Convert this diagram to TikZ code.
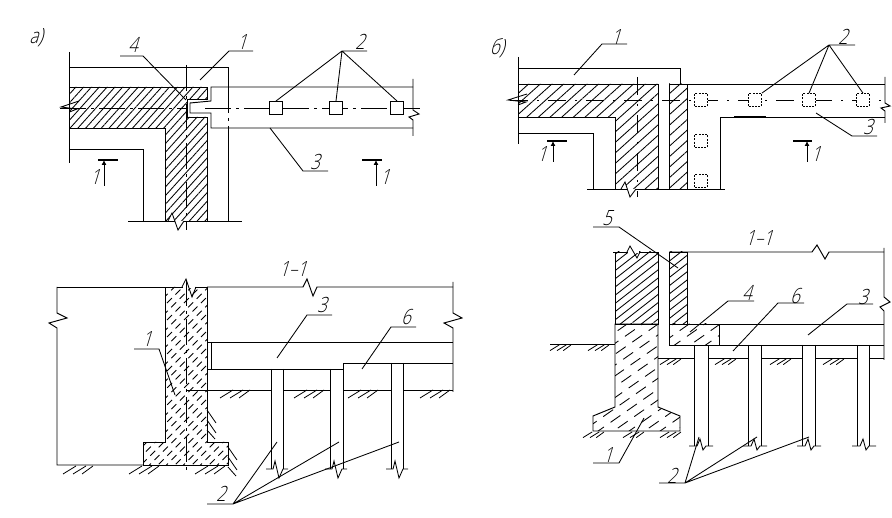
\documentclass[tikz,border=0pt]{standalone}
\usepackage{fontspec}
\usetikzlibrary{arrows.meta, patterns.meta}
\newfontfamily\gost[FakeSlant=.3,FakeStretch=.8]{Open Sans Light}
\newcommand{\wethatch}[5]{\begin{scope}
    \clip #1;
    \foreach \n in {1,...,130} {
      \pgfmathsetmacro\c{300+\n*#2}
      \pgfmathsetmacro\ph{mod(\n,2)*(#4+#5)/2}
      \draw[wet, dash pattern=on #4pt off #5pt, dash phase=\ph pt] (\c-600*#3,600) -- (\c,0);
    }
  \end{scope}
  \draw[outl] #1;}
\tikzset{
  earthmark/.pic={\draw[tick] (0,8) -- (13,0) (10,8) -- (23,0) (19,8) -- (30,0);},
  earthside/.pic={\draw[tick] (0,0) -- (9,13) (0,10) -- (9,23) (0,20) -- (8,29);}
}
\begin{document}
\begin{tikzpicture}[
    x=1pt, y=-1pt,
    outl/.style={line width=.95pt},
    tick/.style={line width=.8pt},
    lead/.style={line width=.85pt},
    wet/.style={line width=.85pt},
    centre/.style={line width=.9pt, dash pattern=on 26pt off 5pt on 3pt off 5pt},
    centreb/.style={line width=.9pt, dash pattern=on 18pt off 9pt on 2pt off 9pt},
    brk/.style={line width=.85pt},
    bar/.style={line width=2.2pt},
    sec/.style={line width=.9pt, -{Latex[length=5pt,width=5pt]}},
    pile/.style={draw, line width=1pt, fill=white, minimum size=13pt, inner sep=0pt},
    pilehid/.style={pile, line width=.7pt, dash pattern=on 2pt off 1.3pt},
    lbl/.style={font=\gost\fontsize{21}{21}\selectfont, inner sep=0pt}
  ]
  \useasboundingbox (0,0) rectangle (892,518);
  \fill[white] (0,0) rectangle (892,518);
  % plan a
  \draw[outl, pattern={Lines[angle=48,distance=5.8pt,line width=.85pt]}] (69.5,87) -- (207,87) -- (207,99) -- (187,99) -- (187,117) -- (207,117) -- (207,221) -- (165,221) -- (165,128) -- (69.5,128) -- cycle;
  \draw[outl] (69.5,52) -- (69.5,163);
  \draw[outl] (69.5,67) -- (228,67) -- (228,87);
  \draw[outl] (228,128) -- (228,221);
  \draw[outl] (69.5,149) -- (143,149) -- (143,221);
  \draw[outl] (128,221) -- (242,221);
  \draw[outl] (413,87) -- (211,87) -- (211,101) -- (190,103) -- (190,113) -- (211,113) -- (211,128) -- (413,128);
  \draw[outl] (413,79) -- (413,110) -- (419,114) -- (409,117) -- (413,120) -- (413,136);
  \draw[brk] (79,101) -- (61,107) -- (77,109) -- (69.5,112);
  \draw[brk, fill=white] (168,221) -- (172,213) -- (178,230) -- (184,221);
  \draw[centre] (60,108) -- (187,108) (205,108) -- (420,108);
  \draw[centre] (186,65) -- (186,230);
  \draw[centre] (228,87) -- (228,128);
  \node[pile] (pa1) at (276,108) {};
  \node[pile] (pa2) at (336,108) {};
  \node[pile] (pa3) at (397,108) {};
  \draw[lead] (367,51) -- (342,51) -- (pa1.north) (342,51) -- (pa2.north) (342,51) -- (pa3.north);
  \draw[lead] (200,80) -- (229,51) -- (253,51);
  \draw[lead] (120,56) -- (143,56) -- (186,100);
  \draw[lead] (270,128) -- (303,171) -- (328,171);
  \draw[bar] (98,160) -- (118,160) (362,160) -- (382,160);
  \draw[sec] (104,186) -- (104,160);
  \draw[sec] (376,186) -- (376,160);
  \node[lbl] (la) at (36,38) {а)};
  \node[lbl] (la2) at (360,42) {2};
  \node[lbl] (la1) at (242,42) {1};
  \node[lbl] (la4) at (133,45) {4};
  \node[lbl] (la3) at (315,162) {3};
  \node[lbl] (lal) at (95,177) {1};
  \node[lbl] (lar) at (385,177) {1};
  % plan b
  \draw[outl, pattern={Lines[angle=42,distance=7.8pt,line width=.85pt]}] (518,84) -- (658,84) -- (658,189) -- (615,189) -- (615,117) -- (518,117) -- cycle;
  \draw[outl, pattern={Lines[angle=42,distance=7.8pt,line width=.85pt]}] (669,84) rectangle (687,189);
  \draw[outl] (518,57) -- (518,144);
  \draw[outl] (518,68) -- (680,68) -- (680,84);
  \draw[outl] (518,133) -- (593,133) -- (593,189);
  \draw[outl] (669,84) -- (885,84);
  \draw[outl] (885,117) -- (720,117) -- (720,189);
  \draw[outl] (587,189) -- (725,189);
  \draw[outl] (885,77) -- (885,103) -- (890,106) -- (881,108) -- (885,111) -- (885,123);
  \draw[line width=1.6pt] (734,117) -- (766,117);
  \draw[brk] (527,94) -- (508,100) -- (526,102) -- (518,105);
  \draw[brk, fill=white] (621,189) -- (625,182) -- (630,197) -- (636,189);
  \draw[centreb] (510,100) -- (885,100);
  \draw[centreb] (637,77) -- (637,197);
  \node[pilehid] (pb1) at (701,100) {};
  \node[pilehid] (pb2) at (755,100) {};
  \node[pilehid] (pb3) at (809,100) {};
  \node[pilehid] (pb4) at (863,100) {};
  \node[pilehid] (pb5) at (701,141) {};
  \node[pilehid] (pb6) at (701,181) {};
  \draw[lead] (855,45) -- (829,45) -- (pb2.north east) (829,45) -- (pb3.north) (829,45) -- (pb4.north);
  \draw[lead] (574,75) -- (602,44) -- (627,44);
  \draw[lead] (816,113) -- (852,136) -- (877,136);
  \draw[bar] (547,141) -- (567,141) (793,141) -- (812,141);
  \draw[sec] (553,162) -- (553,141);
  \draw[sec] (807,162) -- (807,141);
  \node[lbl] (lb) at (497,48) {б)};
  \node[lbl] (lb2) at (843,37) {2};
  \node[lbl] (lb1) at (616,37) {1};
  \node[lbl] (lb3) at (868,127) {3};
  \node[lbl] (lbl) at (542,154) {1};
  \node[lbl] (lbr) at (816,154) {1};
  % section 1-1 a
  \wethatch{(165,287) -- (207,287) -- (207,442) -- (228,442) -- (228,465) -- (143,465) -- (143,442) -- (165,442) -- cycle}{8.5}{1}{7}{5}
  \draw[outl] (57,287) -- (165,287);
  \draw[outl] (207,287) -- (303,287) -- (307,279) -- (313,296) -- (317,287) -- (453,287);
  \draw[outl] (57,287) -- (57,313) -- (67,318) -- (49,323) -- (57,328) -- (57,465) -- (143,465);
  \draw[outl] (453,282) -- (453,313) -- (462,318) -- (444,323) -- (453,328) -- (453,392);
  \draw[white, line width=1.6pt] (183,287) -- (195,287);
  \draw[brk] (182,287) -- (186,279) -- (192,297) -- (196,287);
  \draw[outl] (207,342) -- (453,342);
  \draw[outl] (211,342) -- (211,369);
  \draw[outl] (207,369) -- (343,369) -- (343,363) -- (453,363);
  \draw[outl] (187,390) -- (271,390) (283,390) -- (330,390) (343,390) -- (391,390) (403,390) -- (453,390);
  \draw[outl] (271,369) -- (271,469) (283,369) -- (283,469);
  \draw[outl] (330,369) -- (330,469) (343,369) -- (343,469);
  \draw[outl] (391,363) -- (391,469) (403,363) -- (403,469);
  \foreach \xb in {266,325,386}
    \draw[brk] (\xb,469) -- (\xb+7,469) -- (\xb+9,461) -- (\xb+13,478) -- (\xb+17,469) -- (\xb+22,469);
  \draw[centre] (186,280) -- (186,470);
  \foreach \xe in {220,294,348,420} \pic at (\xe,390) {earthmark};
  \foreach \xe in {63,129,195} \pic at (\xe,466) {earthmark};
  \pic at (207,410) {earthside};
  \pic at (228,447) {earthside};
  \draw[lead] (277,358) -- (307,315) -- (332,315);
  \draw[lead] (362,369) -- (391,327) -- (416,327);
  \draw[lead] (134,349) -- (159,349) -- (175,395);
  \draw[lead] (207,504) -- (233,504) -- (277,442) (233,504) -- (339,442) (233,504) -- (399,442);
  \node[lbl] (lc0) at (293,269) {1–1};
  \node[lbl] (lc3) at (322,305) {3};
  \node[lbl] (lc6) at (406,317) {6};
  \node[lbl] (lc1) at (147,339) {1};
  \node[lbl] (lc2) at (221,494) {2};
  % section 1-1 b
  \wethatch{(615,252) rectangle (658,324)}{10.5}{1.28}{900}{1}
  \wethatch{(615,324) -- (658,324) -- (658,407) -- (680,416) -- (680,431) -- (593,431) -- (593,416) -- (615,407) -- cycle}{15.5}{1.43}{12}{8}
  \wethatch{(669,252) rectangle (687,324)}{10.5}{1.28}{900}{1}
  \wethatch{(669,324) rectangle (719,345)}{15.5}{1.43}{12}{8}
  \draw[outl] (613,252) -- (658,252);
  \draw[outl] (669,252) -- (812,252) -- (817,245) -- (825,259) -- (829,252) -- (884,252);
  \draw[outl] (884,248) -- (884,297) -- (890,302) -- (880,307) -- (884,311) -- (884,360);
  \draw[outl] (669,324) -- (884,324);
  \draw[outl] (669,345) -- (884,345);
  \draw[outl] (658,358) -- (694,358) (708,358) -- (748,358) (761,358) -- (802,358) (815,358) -- (857,358) (869,358) -- (884,358);
  \draw[outl] (550,344) -- (615,344);
  \draw[outl] (694,345) -- (694,446) (708,345) -- (708,446);
  \draw[outl] (748,345) -- (748,446) (761,345) -- (761,446);
  \draw[outl] (802,345) -- (802,446) (815,345) -- (815,446);
  \draw[outl] (857,345) -- (857,446) (869,345) -- (869,446);
  \foreach \xb in {689,743,797,852}
    \draw[brk] (\xb,446) -- (\xb+8,446) -- (\xb+11,439) -- (\xb+14,450) -- (\xb+17,446) -- (\xb+24,446);
  \draw[white, line width=1.6pt] (628,252) -- (639,252);
  \draw[brk] (627,252) -- (630,246) -- (637,258) -- (640,252);
  \foreach \xe in {550,588} \pic[scale=.7] at (\xe,345) {earthmark};
  \foreach \xe in {660,715,770,823} \pic[scale=.7] at (\xe,359) {earthmark};
  \foreach \xe in {583,623,660} \pic[scale=.7] at (\xe,432) {earthmark};
  \draw[lead] (593,227) -- (619,227) -- (678,268);
  \draw[lead] (690,332) -- (728,301) -- (754,301);
  \draw[lead] (733,351) -- (778,303) -- (804,303);
  \draw[lead] (808,335) -- (847,304) -- (873,304);
  \draw[lead] (644,418) -- (619,463) -- (593,463);
  \draw[lead] (659,483) -- (685,483) -- (699,437) (685,483) -- (757,437) (685,483) -- (809,437);
  \node[lbl] (ld0) at (759,238) {1–1};
  \node[lbl] (ld5) at (607,218) {5};
  \node[lbl] (ld4) at (747,293) {4};
  \node[lbl] (ld6) at (795,296) {6};
  \node[lbl] (ld3) at (863,297) {3};
  \node[lbl] (ld1) at (608,455) {1};
  \node[lbl] (ld2) at (672,476) {2};
\end{tikzpicture}
\end{document}
